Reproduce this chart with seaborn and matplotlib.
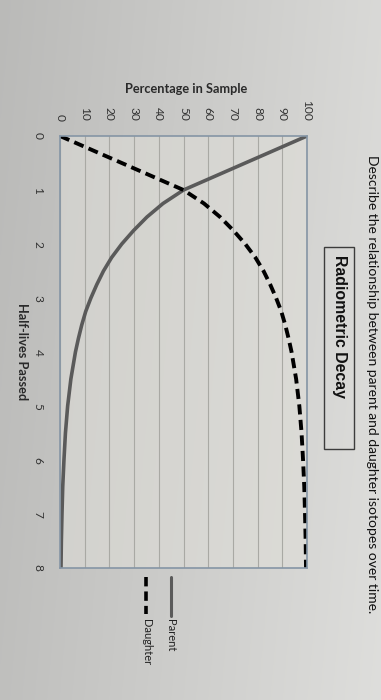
import matplotlib
matplotlib.use("Agg")
import matplotlib.pyplot as plt
import seaborn as sns
import numpy as np
import pandas as pd
from matplotlib.lines import Line2D
from matplotlib.patches import Rectangle

# ---- data ----
half_lives = [0, 0.25, 0.5, 0.75, 1, 1.25, 1.5, 1.75, 2, 2.25, 2.5, 2.75, 3, 3.25, 3.5, 3.75,
              4, 4.5, 5, 5.5, 6, 6.5, 7, 7.5, 8]
parent_pct = [100, 87.5, 75, 62.5, 50, 41.7, 35.2, 29.8, 25, 20.9, 17.6, 14.9, 12.5, 10.4, 8.8, 7.45,
              6.25, 4.4, 3.1, 2.2, 1.6, 1.1, 0.8, 0.55, 0.4]
daughter_pct = [0, 12.5, 25, 37.5, 50, 58.3, 64.8, 70.2, 75, 79.1, 82.4, 85.1, 87.5, 89.6, 91.2, 92.55,
                93.75, 95.6, 96.9, 97.8, 98.4, 98.9, 99.2, 99.45, 99.6]
half_life_ticks = [0, 1, 2, 3, 4, 5, 6, 7, 8]
pct_ticks = [0, 10, 20, 30, 40, 50, 60, 70, 80, 90, 100]
series_names = ["Parent", "Daughter"]
chart_title = "Radiometric Decay"
x_title = "Half-lives Passed"
y_title = "Percentage in Sample"
page_text = "Describe the relationship between parent and daughter isotopes over time."

sns.set_style("white")
plt.rcParams["font.family"] = ["Lato", "DejaVu Sans"]

W, H = 381, 700
fig = plt.figure(figsize=(W / 100, H / 100), dpi=100)

def fx(px):
    return px / W

def fy(py):
    return 1 - py / H

# photographed-paper background gradient
bg = fig.add_axes([0, 0, 1, 1], zorder=-10)
gx = np.linspace(0, 1, 200)
gy = np.linspace(0, 1, 200)
GX, GY = np.meshgrid(gx, gy)
val = 0.73 + 0.12 * GX + 0.02 * GY
img = np.dstack([val, val, val * 0.99])
bg.imshow(img, aspect="auto", extent=[0, 1, 0, 1], origin="upper")
bg.axis("off")

# main axes (chart is photographed rotated 90 deg clockwise)
ax = fig.add_axes([fx(60), fy(568), fx(307) - fx(60), fy(136) - fy(568)])
ax.set_facecolor((0.88, 0.875, 0.85, 0.55))

df = pd.DataFrame({"hl": half_lives, "Parent": parent_pct, "Daughter": daughter_pct})
parent_color = "#5a5a5a"
sns.lineplot(data=df, x="Parent", y="hl", sort=False, estimator=None, ax=ax,
             color=parent_color, lw=2.6, legend=False)
sns.lineplot(data=df, x="Daughter", y="hl", sort=False, estimator=None, ax=ax,
             color="black", lw=2.8, ls=(0, (2.6, 1.4)), legend=False)

ax.set_xlim(0, 100)
ax.set_ylim(8, 0)
ax.set_xlabel("")
ax.set_ylabel("")

ax.xaxis.tick_top()
ax.set_xticks(pct_ticks)
ax.set_xticklabels([str(v) for v in pct_ticks], rotation=270)
ax.tick_params(axis="x", length=0, pad=11, labelsize=8.6, labelcolor="#333333")

ax.set_yticks(half_life_ticks)
ax.set_yticklabels([str(v) for v in half_life_ticks], rotation=270, va="center")
ax.tick_params(axis="y", length=3, width=0.8, color="#8595a5", pad=9,
               labelsize=8.6, labelcolor="#333333")

ax.grid(axis="x", color="#a9a9a4", lw=0.8)
ax.grid(axis="y", visible=False)
ax.set_axisbelow(True)
for s in ax.spines.values():
    s.set_visible(True)
    s.set_color("#8595a5")
    s.set_linewidth(1.2)

# axis titles
fig.text(fx(186), fy(89), y_title, ha="center", va="center", fontsize=9.2,
         fontweight="bold", color="#2a2a2a")
fig.text(fx(22), fy(352), x_title, rotation=270, ha="center", va="center",
         fontsize=9.2, fontweight="bold", color="#2a2a2a")

# chart title with box
fig.text(fx(339), fy(327), chart_title, rotation=270, ha="center", va="center",
         fontsize=11.4, fontweight="bold", family=["Liberation Sans", "DejaVu Sans"],
         color="#111111")
fig.add_artist(Rectangle((fx(324), fy(449)), fx(354) - fx(324), fy(247) - fy(449),
                         transform=fig.transFigure, fill=False, ec="#3c3c3c", lw=1.0))

# legend (rotated)
fig.add_artist(Line2D([fx(171), fx(171)], [fy(577), fy(616)], transform=fig.transFigure,
                      color=parent_color, lw=2.2))
fig.add_artist(Line2D([fx(146), fx(146)], [fy(577), fy(614)], transform=fig.transFigure,
                      color="black", lw=2.6, ls=(0, (2.6, 1.4))))
fig.text(fx(171), fy(619), series_names[0], rotation=270, ha="center", va="top",
         fontsize=8, color="#222222")
fig.text(fx(146), fy(619), series_names[1], rotation=270, ha="center", va="top",
         fontsize=8, color="#222222")

# worksheet question text along the right edge
fig.text(fx(372), fy(613), page_text, rotation=270, ha="center", va="bottom",
         fontsize=10, color="#111111")

fig.savefig("out.png", dpi=100)
